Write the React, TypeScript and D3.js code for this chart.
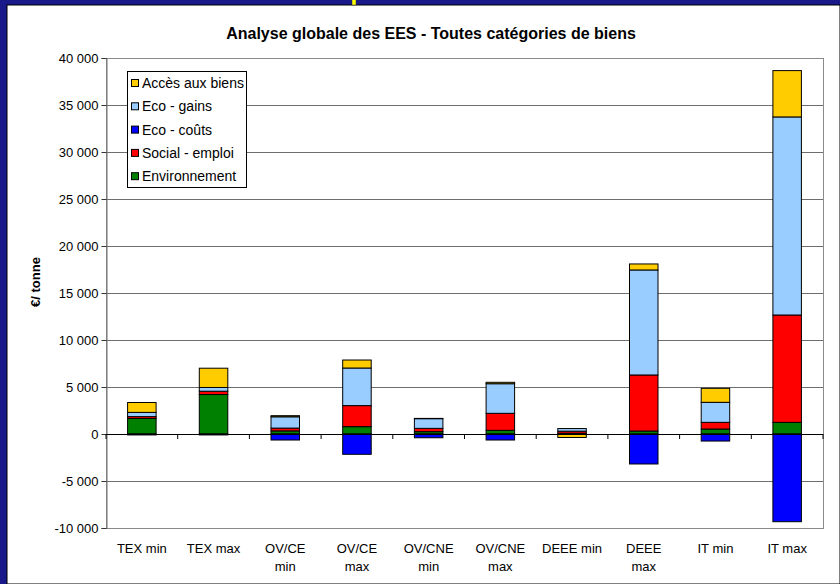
import React, { useEffect, useRef } from "react";
import * as d3 from "d3";

const categories = [
  ["TEX min"],
  ["TEX max"],
  ["OV/CE", "min"],
  ["OV/CE", "max"],
  ["OV/CNE", "min"],
  ["OV/CNE", "max"],
  ["DEEE min"],
  ["DEEE", "max"],
  ["IT min"],
  ["IT max"],
];

const environnement = [1650, 4200, 330, 780, 250, 390, 80, 320, 530, 1240];
const socialEmploi = [200, 350, 300, 2240, 350, 1810, 220, 5960, 710, 11420];
const ecoCouts = [-100, -100, -640, -2160, -400, -640, -40, -3190, -750, -9330];
const ecoGains = [450, 400, 1200, 4000, 1030, 3150, 280, 11170, 2130, 21070];
const accesBiens = [1050, 2050, 120, 850, 30, 150, -330, 640, 1490, 4930];

const seriesNames = ["Environnement", "Social - emploi", "Eco - coûts", "Eco - gains", "Accès aux biens"];
const colors = ["#008000", "#ff0000", "#0000ff", "#99ccff", "#ffcc00"];
const yTicks = [-10000, -5000, 0, 5000, 10000, 15000, 20000, 25000, 30000, 35000, 40000];

const FONT = "'Liberation Sans', Arial, sans-serif";

function App() {
  const ref = useRef<SVGSVGElement>(null);

  useEffect(() => {
    const svg = d3.select(ref.current);
    svg.selectAll("*").remove();

    const W = 840, H = 584;
    const left = 106, right = 823, top = 58, bottom = 528;

    // frame
    svg.append("rect").attr("width", W).attr("height", H).attr("fill", "#19198a");
    svg.append("rect").attr("x", 7).attr("y", 5).attr("width", W - 7).attr("height", H - 5)
      .attr("fill", "#fff").attr("stroke", "#000").attr("stroke-width", 1);
    svg.append("rect").attr("x", 352).attr("y", -1).attr("width", 4).attr("height", 6)
      .attr("fill", "#ffff00").attr("stroke", "#333").attr("stroke-width", 0.5);

    const data = categories.map((c, i) => ({
      key: c.join(" "),
      [seriesNames[0]]: environnement[i],
      [seriesNames[1]]: socialEmploi[i],
      [seriesNames[2]]: ecoCouts[i],
      [seriesNames[3]]: ecoGains[i],
      [seriesNames[4]]: accesBiens[i],
    }));

    const x = d3.scaleBand().domain(data.map(d => d.key)).range([left, right]).paddingInner(0.6).paddingOuter(0.3);
    const y = d3.scaleLinear().domain([-10000, 40000]).range([bottom, top]);

    // gridlines
    svg.append("g").selectAll("line").data(yTicks.filter(t => t !== 0 && t !== -10000)).join("line")
      .attr("x1", left).attr("x2", right)
      .attr("y1", d => y(d) + 0.5).attr("y2", d => y(d) + 0.5)
      .attr("stroke", "#6e6e6e").attr("stroke-width", 1);

    // plot border
    svg.append("rect").attr("x", left + 0.5).attr("y", top + 0.5)
      .attr("width", right - left).attr("height", bottom - top)
      .attr("fill", "none").attr("stroke", "#8a8a8a");

    // bars
    const stack = d3.stack<any>().keys(seriesNames).offset(d3.stackOffsetDiverging);
    const stacked = stack(data);
    const bw = 28.5;
    svg.append("g").selectAll("g").data(stacked).join("g")
      .attr("fill", (d, i) => colors[i])
      .selectAll("rect").data(d => d).join("rect")
      .attr("x", d => x(d.data.key)! + x.bandwidth() / 2 - bw / 2)
      .attr("y", d => y(Math.max(d[0], d[1])))
      .attr("width", bw)
      .attr("height", d => Math.abs(y(d[0]) - y(d[1])))
      .attr("stroke", "#000").attr("stroke-width", 1);

    // y axis
    const yAxis = d3.axisLeft(y).tickValues(yTicks).tickSize(5).tickPadding(3)
      .tickFormat(d => d3.format(",")(d as number).replace(/,/g, " ").replace("−", "-"));
    const ga = svg.append("g").attr("transform", `translate(${left + 0.5},0)`).call(yAxis);
    ga.select(".domain").attr("stroke", "#707070");
    ga.selectAll(".tick line").attr("stroke", "#333");
    ga.selectAll(".tick text").attr("font-family", FONT).attr("font-size", 13).attr("fill", "#000");

    // zero line + category ticks
    svg.append("line").attr("x1", left).attr("x2", right).attr("y1", y(0) + 0.5).attr("y2", y(0) + 0.5)
      .attr("stroke", "#000");
    const step = (right - left) / categories.length;
    svg.append("g").selectAll("line").data(d3.range(categories.length + 1)).join("line")
      .attr("x1", i => left + i * step).attr("x2", i => left + i * step)
      .attr("y1", y(0)).attr("y2", y(0) + 5).attr("stroke", "#000");

    // category labels
    const labels = svg.append("g").selectAll("text").data(categories).join("text")
      .attr("x", (d, i) => x(data[i].key)! + x.bandwidth() / 2)
      .attr("y", 553)
      .attr("text-anchor", "middle").attr("font-family", FONT).attr("font-size", 13);
    labels.selectAll("tspan").data(d => d).join("tspan")
      .attr("x", function () { return (this as any).parentNode.getAttribute("x"); })
      .attr("dy", (d, i) => (i === 0 ? 0 : 18))
      .text(d => d);

    // title
    svg.append("text").attr("x", 431).attr("y", 39).attr("text-anchor", "middle")
      .attr("font-family", FONT).attr("font-weight", "bold").attr("font-size", 16)
      .text("Analyse globale des EES - Toutes catégories de biens");

    // y title
    svg.append("text").attr("transform", "translate(40,282) rotate(-90)").attr("text-anchor", "middle")
      .attr("font-family", FONT).attr("font-weight", "bold").attr("font-size", 13)
      .text("€/ tonne");

    // legend
    const lg = svg.append("g");
    lg.append("rect").attr("x", 127.5).attr("y", 71.5).attr("width", 119).attr("height", 116)
      .attr("fill", "#fff").attr("stroke", "#000");
    const items = lg.selectAll("g").data([...seriesNames].reverse()).join("g")
      .attr("transform", (d, i) => `translate(131, ${83 + i * 23.3})`);
    items.append("rect").attr("x", 0.5).attr("y", -3.5).attr("width", 7).attr("height", 7)
      .attr("fill", d => colors[seriesNames.indexOf(d)]).attr("stroke", "#000");
    items.append("text").attr("x", 11).attr("y", 5)
      .attr("font-family", FONT).attr("font-size", 14).text(d => d);
  }, []);

  return (
    <div style={{ position: "fixed", left: 0, top: 0 }}>
      <svg ref={ref} width={840} height={584} style={{ display: "block" }} />
    </div>
  );
}

export default App;
